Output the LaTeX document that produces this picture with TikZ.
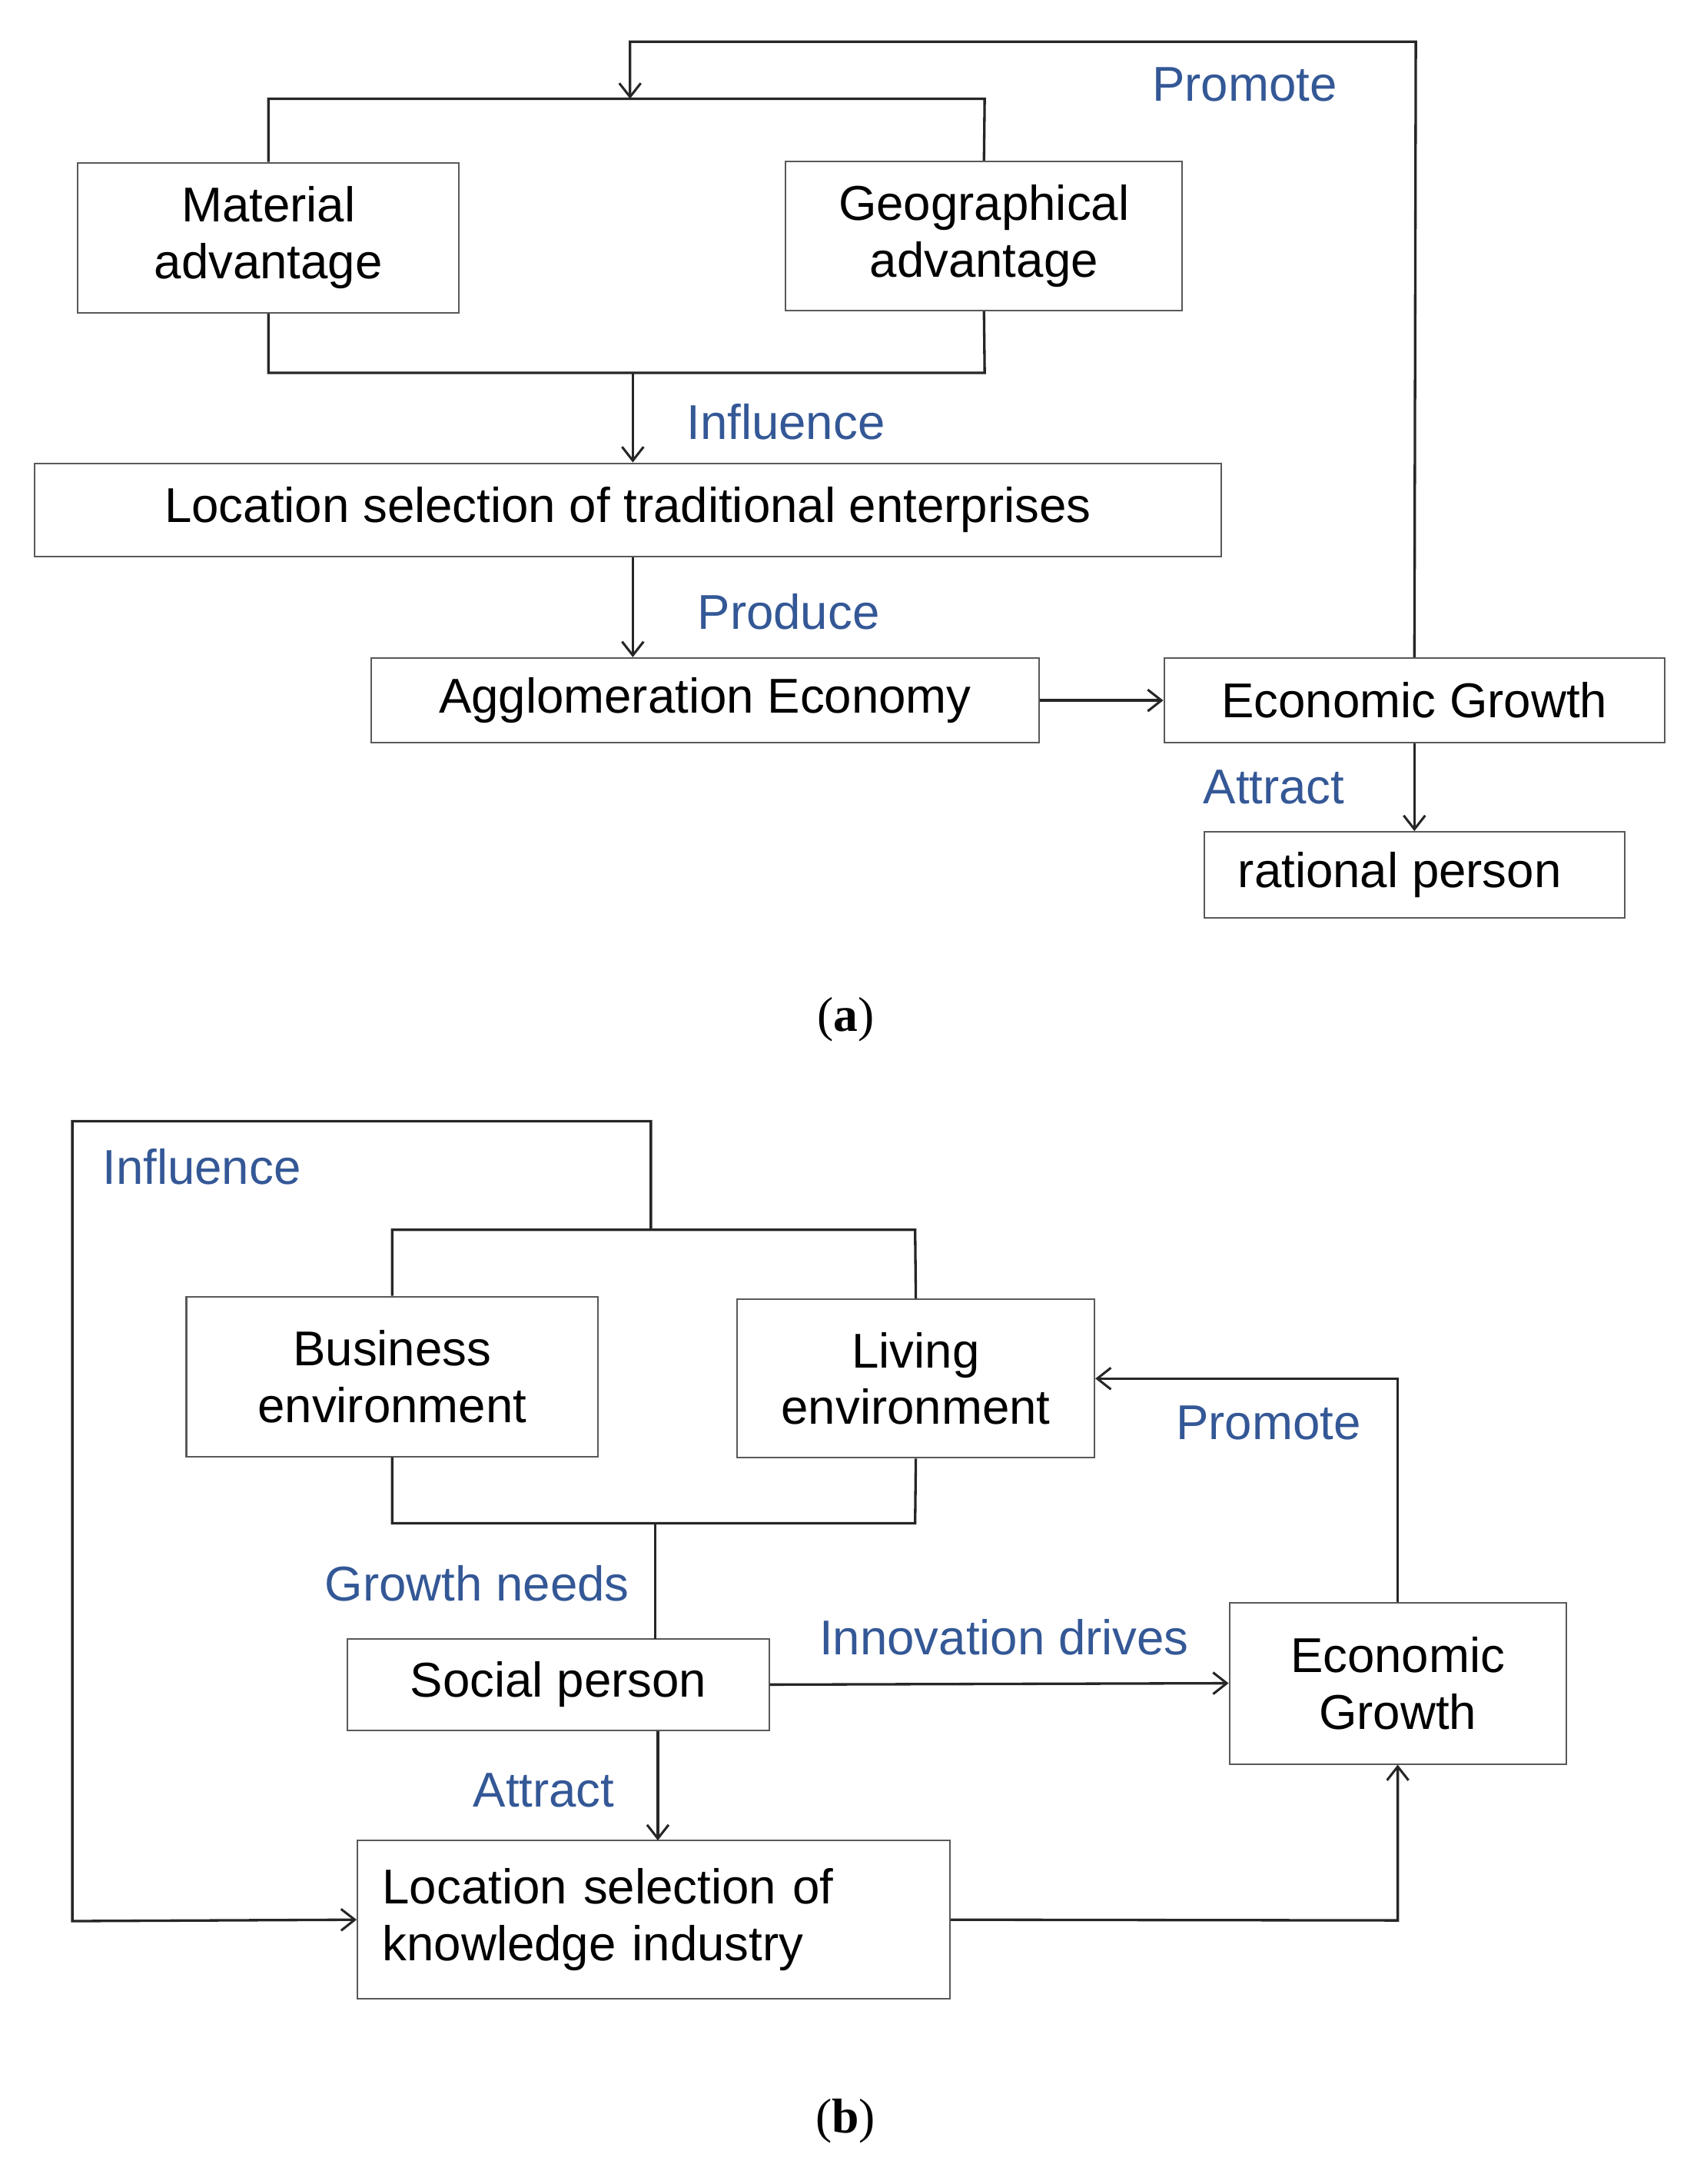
\documentclass[tikz,border=0pt]{standalone}
\usepackage{fontspec}
\setmainfont{Liberation Sans}
\newfontfamily\capfont{Liberation Serif}
\usetikzlibrary{arrows.meta}
\definecolor{lblue}{RGB}{52,88,150}
\begin{document}
\begin{tikzpicture}[x=0.05cm,y=-0.05cm,
  box/.style={draw=black!65,line width=1.6pt,inner sep=0pt,align=center,font=\fontsize{50}{58}\selectfont},
  lbl/.style={text=lblue,font=\fontsize{50}{58}\selectfont,inner sep=0pt},
  ln/.style={line width=2.6pt,draw=black!85},
  arr/.style={ln,-{Straight Barb[length=14pt,width=22pt,line width=2.4pt]}}]
\useasboundingbox (0,0) rectangle (1220,1570);
% (a)
\node[box,minimum width=274*0.05cm,minimum height=108*0.05cm] (mat) at (193,171) {Material\\advantage};
\node[box,minimum width=285*0.05cm,minimum height=107*0.05cm] (geo) at (707.5,169.5) {Geographical\\advantage};
\node[box,minimum width=853*0.05cm,minimum height=67*0.05cm] (loc) at (451.5,366.5) {Location selection of traditional enterprises};
\node[box,minimum width=480*0.05cm,minimum height=61*0.05cm] (agg) at (507,503.5) {Agglomeration Economy};
\node[box,minimum width=360*0.05cm,minimum height=61*0.05cm] (eg) at (1017,503.5) {Economic Growth};
\node[box,minimum width=302*0.05cm,minimum height=62*0.05cm] (rp) at (1017,629) {\hspace*{-30pt}rational person};
\coordinate (tb) at (453,71);
\coordinate (bb) at (455,268);
\draw[ln] (mat.north) -- (193,71) -- (708,71) -- (geo.north);
\draw[ln] (mat.south) -- (193,268) -- (708,268) -- (geo.south);
\draw[arr] (eg.north) -- (1018,30) -- (453,30) -- (tb);
\draw[arr] (bb) -- (loc.north -| bb);
\draw[arr] (loc.south -| bb) -- (agg.north -| bb);
\draw[arr] (agg.east) -- (eg.west);
\draw[arr] (eg.south) -- (rp.north);
\node[lbl] at (895,61) {Promote};
\node[lbl] at (565,303) {Influence};
\node[lbl] at (567,440) {Produce};
\node[lbl] at (916,566) {Attract};
\node[font=\capfont\fontsize{50}{58}\selectfont] at (608,733) {(\textbf{a})};
% (b)
\node[box,minimum width=296*0.05cm,minimum height=115*0.05cm] (bus) at (282,989.5) {Business\\environment};
\node[box,minimum width=257*0.05cm,minimum height=114*0.05cm] (liv) at (658.5,991) {Living\\environment};
\node[box,minimum width=303*0.05cm,minimum height=66*0.05cm] (sp) at (401.5,1211) {Social person};
\node[box,minimum width=242*0.05cm,minimum height=116*0.05cm] (eg2) at (1005,1210) {Economic\\Growth};
\node[box,minimum width=426*0.05cm,minimum height=114*0.05cm,align=left,text width=390*0.05cm] (lk) at (470,1380) {Location selection of\\knowledge industry};
\draw[ln] (bus.north) -- (282,884) -- (658,884) -- (liv.north);
\draw[ln] (bus.south) -- (282,1095) -- (658,1095) -- (liv.south);
\draw[arr] (468,884) -- (468,806) -- (52,806) -- (52,1381) -- (lk.west);
\draw[ln] (471,1095) -- (471,1178);
\draw[arr] (sp.east) -- (eg2.west);
\draw[arr] (eg2.north) -- (1005,991) -- (liv.east |- 0,991);
\draw[arr] (sp.south -| 473,0) -- (473,1323);
\draw[arr] (lk.east) -- (1005,1380.5) -- (eg2.south);
\node[lbl] at (145,839) {Influence};
\node[lbl] at (343,1138) {Growth needs};
\node[lbl] at (722,1177) {Innovation drives};
\node[lbl] at (912,1023) {Promote};
\node[lbl] at (391,1287) {Attract};
\node[font=\capfont\fontsize{50}{58}\selectfont] at (608,1525) {(\textbf{b})};
\end{tikzpicture}
\end{document}
